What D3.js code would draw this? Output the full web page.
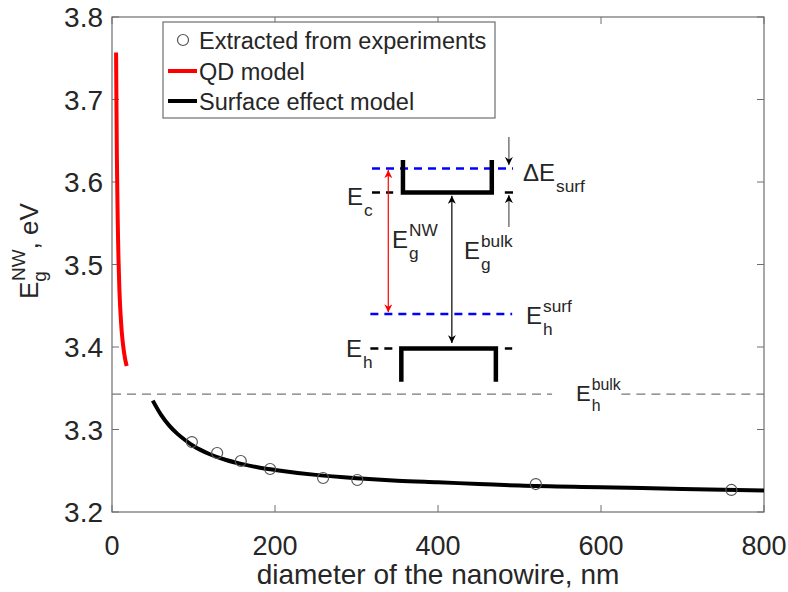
<!DOCTYPE html>
<html>
<head>
<meta charset="utf-8">
<script src="https://cdn.jsdelivr.net/npm/d3@7"></script>
<style>
  body { margin: 0; background: #fff; }
  text { font-family: "Liberation Sans", Arial, Helvetica, sans-serif; fill: #262626; }
</style>
</head>
<body>
<div id="chart"></div>
<script>
// experimental points
const diamExp = [98, 129, 158, 194, 259, 301, 520, 760];
const egExp = [3.2848, 3.2715, 3.2618, 3.2521, 3.2412, 3.2388, 3.2339, 3.2267];

// QD model (red)
const diamQD = [5, 5.5, 6, 6.5, 7, 8, 9, 10, 12, 14, 16, 18];
const egQD = [3.757, 3.69, 3.63, 3.59, 3.555, 3.505, 3.472, 3.449, 3.418, 3.399, 3.386, 3.377];

// surface effect model (black)
const diamSurf = [50, 60, 70, 80, 90, 100, 120, 140, 160, 180, 200, 250, 300, 350, 400, 450, 500, 600, 700, 800];
const egSurf = [3.335, 3.318, 3.305, 3.295, 3.287, 3.280, 3.270, 3.263, 3.258, 3.254, 3.251, 3.245, 3.241, 3.238, 3.236, 3.234, 3.232, 3.230, 3.228, 3.226];

const xTicks = [0, 200, 400, 600, 800];
const yTicks = [3.2, 3.3, 3.4, 3.5, 3.6, 3.7, 3.8];
const ehBulk = 3.343;

const width = 788, height = 592;
const margin = { top: 17, right: 24, bottom: 80, left: 112 };
const pw = width - margin.left - margin.right;
const ph = height - margin.top - margin.bottom;

const svg = d3.select("#chart").append("svg")
  .attr("width", width).attr("height", height);

const defs = svg.append("defs");
function marker(id, color) {
  defs.append("marker")
    .attr("id", id)
    .attr("viewBox", "0 0 10 10")
    .attr("refX", 10).attr("refY", 5)
    .attr("markerWidth", 8).attr("markerHeight", 8)
    .attr("markerUnits", "userSpaceOnUse")
    .attr("orient", "auto-start-reverse")
    .append("path")
    .attr("d", "M0,0 L10,5 L0,10 L3,5 Z")
    .attr("fill", color);
}
marker("arrRed", "#ff0000");
marker("arrBlack", "#000");

const g = svg.append("g").attr("transform", `translate(${margin.left},${margin.top})`);

const x = d3.scaleLinear().domain([0, 800]).range([0, pw]);
const y = d3.scaleLinear().domain([3.2, 3.8]).range([ph, 0]);

// axes box
const axisColor = "#6e6e6e";
g.append("rect").attr("width", pw).attr("height", ph)
  .attr("fill", "none").attr("stroke", axisColor).attr("stroke-width", 1.2);

const tickLen = 7;
xTicks.forEach(t => {
  g.append("line").attr("x1", x(t)).attr("x2", x(t)).attr("y1", ph).attr("y2", ph - tickLen)
    .attr("stroke", axisColor);
  g.append("line").attr("x1", x(t)).attr("x2", x(t)).attr("y1", 0).attr("y2", tickLen)
    .attr("stroke", axisColor);
  g.append("text").attr("x", x(t)).attr("y", ph + 43)
    .attr("text-anchor", "middle").attr("font-size", 27).text(t);
});
yTicks.forEach(t => {
  g.append("line").attr("x1", 0).attr("x2", tickLen).attr("y1", y(t)).attr("y2", y(t))
    .attr("stroke", axisColor);
  g.append("line").attr("x1", pw).attr("x2", pw - tickLen).attr("y1", y(t)).attr("y2", y(t))
    .attr("stroke", axisColor);
  g.append("text").attr("x", -9).attr("y", y(t) + 10)
    .attr("text-anchor", "end").attr("font-size", 28).text(t.toFixed(1));
});

// axis titles
g.append("text").attr("x", pw / 2).attr("y", ph + 72)
  .attr("text-anchor", "middle").attr("font-size", 28)
  .text("diameter of the nanowire, nm");

const yl = svg.append("text").attr("transform", "translate(38,299) rotate(-90)")
  .attr("font-size", 26);
yl.append("tspan").text("E");
yl.append("tspan").attr("font-size", 19).attr("dy", 8).text("g");
yl.append("tspan").attr("font-size", 19).attr("dx", -10).attr("dy", -21).text("NW");
yl.append("tspan").attr("dy", 13).text(", eV");

// E_h bulk gray dashed line with gap for label
g.append("line").attr("x1", 0).attr("x2", x(540))
  .attr("y1", y(ehBulk)).attr("y2", y(ehBulk))
  .attr("stroke", "#777").attr("stroke-width", 1.3).attr("stroke-dasharray", "9,6");
g.append("line").attr("x1", x(625)).attr("x2", pw)
  .attr("y1", y(ehBulk)).attr("y2", y(ehBulk))
  .attr("stroke", "#777").attr("stroke-width", 1.3).attr("stroke-dasharray", "9,6");

// lines
const line = d3.line().x(d => x(d[0])).y(d => y(d[1])).curve(d3.curveMonotoneX);
g.append("path").datum(diamQD.map((d, i) => [d, egQD[i]]))
  .attr("d", d3.line().x(d => x(d[0])).y(d => y(d[1])).curve(d3.curveCatmullRom))
  .attr("fill", "none").attr("stroke", "#ff0000").attr("stroke-width", 4);
g.append("path").datum(diamSurf.map((d, i) => [d, egSurf[i]]))
  .attr("d", line)
  .attr("fill", "none").attr("stroke", "#000").attr("stroke-width", 4);

// experimental circles
g.selectAll("circle.exp").data(diamExp).enter().append("circle")
  .attr("class", "exp")
  .attr("cx", d => x(d)).attr("cy", (d, i) => y(egExp[i]))
  .attr("r", 5.5).attr("fill", "none").attr("stroke", "#555").attr("stroke-width", 1.2);

// ---- inset band diagram (data coordinates) ----
const ec = 3.5873, eh = 3.3982, ecSurf = 3.6164, ehSurf = 3.44;
function seg(x1, e1, x2, e2, color, w, dash) {
  const l = g.append("line")
    .attr("x1", x(x1)).attr("y1", y(e1)).attr("x2", x(x2)).attr("y2", y(e2))
    .attr("stroke", color).attr("stroke-width", w);
  if (dash) l.attr("stroke-dasharray", dash);
  return l;
}
// blue dashed surface levels
seg(319, ecSurf, 492, ecSurf, "#0000ff", 2.5, "8,6");
seg(317, ehSurf, 491, ehSurf, "#0000ff", 2.5, "8,6");
// black short dashes at Ec and Eh
seg(319, ec, 345, ec, "#000", 2.5, "8,6");
seg(482, ec, 492, ec, "#000", 2.5);
seg(317, eh, 344, eh, "#000", 2.5, "8,6");
seg(482, eh, 491, eh, "#000", 2.5);
// conduction bracket
g.append("path")
  .attr("d", `M${x(357)},${y(3.6267)} L${x(357)},${y(ec)} L${x(466)},${y(ec)} L${x(466)},${y(3.6267)}`)
  .attr("fill", "none").attr("stroke", "#000").attr("stroke-width", 4.5);
// valence bracket
g.append("path")
  .attr("d", `M${x(355)},${y(3.358)} L${x(355)},${y(eh)} L${x(471)},${y(eh)} L${x(471)},${y(3.358)}`)
  .attr("fill", "none").attr("stroke", "#000").attr("stroke-width", 4.5);
// red double arrow
seg(339, ecSurf - 0.002, 339, ehSurf + 0.002, "#ff0000", 1.2)
  .attr("marker-start", "url(#arrRed)").attr("marker-end", "url(#arrRed)");
// black double arrow
seg(417, ec - 0.004, 417, 3.4048, "#000", 1.2)
  .attr("marker-start", "url(#arrBlack)").attr("marker-end", "url(#arrBlack)");
// small arrows for delta E surf
seg(487, 3.6545, 487, 3.6206, "#555", 1.2).attr("marker-end", "url(#arrBlack)");
seg(487, 3.5455, 487, 3.5842, "#555", 1.2).attr("marker-end", "url(#arrBlack)");

// labels with sub/superscripts
function label(px, py, main, sub, sup, fs) {
  fs = fs || 24;
  const t = svg.append("text").attr("x", px).attr("y", py).attr("font-size", fs).text(main);
  const w = t.node().getComputedTextLength();
  if (sup) svg.append("text").attr("x", px + w + 1).attr("y", py - fs * 0.5)
    .attr("font-size", fs * 0.72).text(sup);
  if (sub) svg.append("text").attr("x", px + w + 1).attr("y", py + fs * 0.45)
    .attr("font-size", fs * 0.72).text(sub);
}
label(347, 205, "E", "c");
label(392, 248, "E", "g", "NW");
label(464, 259, "E", "g", "bulk");
label(523, 181, "ΔE", "surf");
label(526, 324, "E", "h", "surf");
label(346, 357, "E", "h");
label(576, 401, "E", "h", "bulk", 22);

// legend
const lg = svg.append("g");
lg.append("rect").attr("x", 163).attr("y", 22).attr("width", 332).attr("height", 96)
  .attr("fill", "#fff").attr("stroke", axisColor).attr("stroke-width", 1.2);
lg.append("circle").attr("cx", 183).attr("cy", 40).attr("r", 5.5)
  .attr("fill", "none").attr("stroke", "#555").attr("stroke-width", 1.2);
lg.append("line").attr("x1", 168).attr("x2", 197).attr("y1", 71).attr("y2", 71)
  .attr("stroke", "#ff0000").attr("stroke-width", 4);
lg.append("line").attr("x1", 168).attr("x2", 197).attr("y1", 101).attr("y2", 101)
  .attr("stroke", "#000").attr("stroke-width", 4);
const legendNames = ["Extracted from experiments", "QD model", "Surface effect model"];
legendNames.forEach((n, i) => {
  lg.append("text").attr("x", 199).attr("y", 49 + i * 30.5).attr("font-size", 23.5).text(n);
});
</script>
</body>
</html>
